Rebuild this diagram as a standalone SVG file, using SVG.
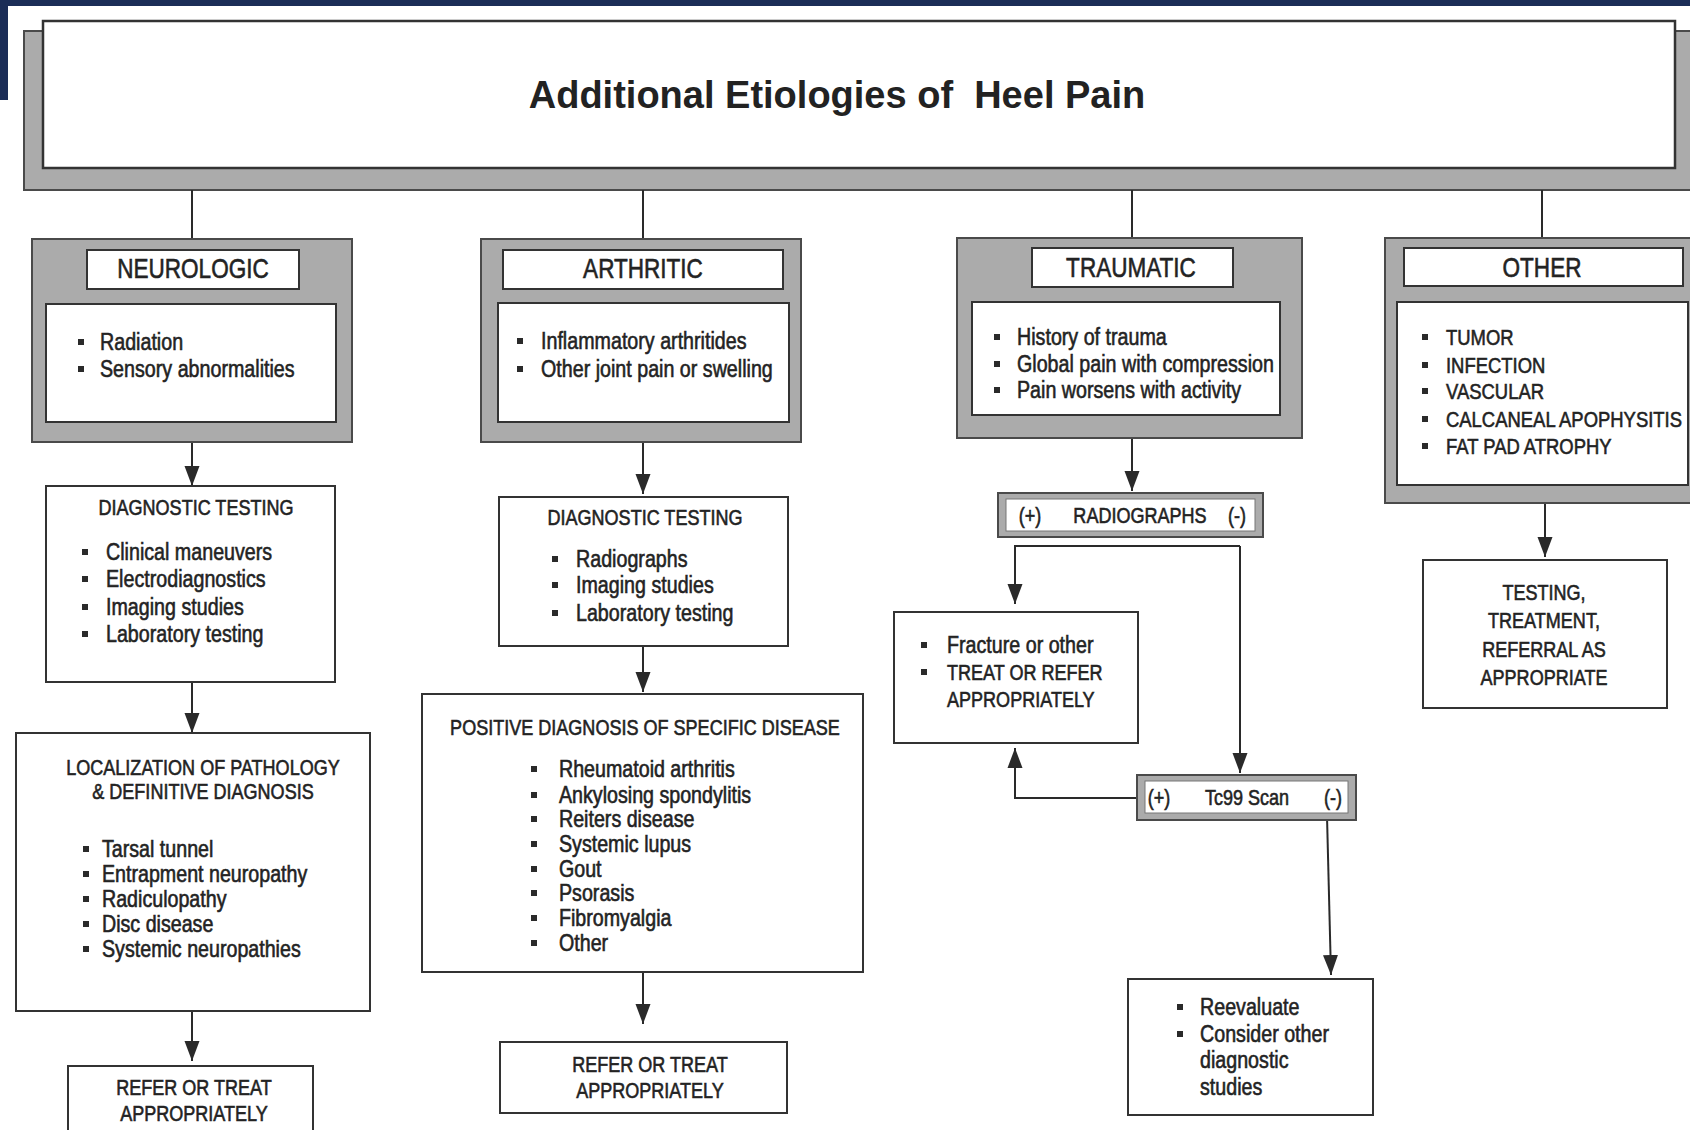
<svg xmlns="http://www.w3.org/2000/svg" width="1690" height="1130" viewBox="0 0 1690 1130">
<style>
.bg{fill:#ffffff}
.nav{fill:#1b2d57}
.gray{fill:#ababab;stroke:#4a4a4a;stroke-width:2}
.box{fill:#ffffff;stroke:#333333;stroke-width:2}
.con{fill:none;stroke:#2a2a2a;stroke-width:2}
.t{font-family:'Liberation Sans',Arial,sans-serif;fill:#232323;stroke:#232323;stroke-width:0.6;transform-box:fill-box;transform-origin:0% 50%;transform:scaleX(0.82)}
.title{font-family:'Liberation Sans',Arial,sans-serif;font-weight:bold;font-size:38px;fill:#222;text-anchor:middle;white-space:pre}
.h{font-size:27.5px;text-anchor:middle;transform-origin:50% 50%}
.s{font-size:22px}
.c{text-anchor:middle;transform-origin:50% 50%}
.b{font-size:24px}
.bt{font-size:23px;transform:scaleX(0.855)}
.u{font-size:22.5px}
.bul{fill:#2a2a2a}
</style>
<defs>
<marker id="ah" markerUnits="userSpaceOnUse" markerWidth="20" markerHeight="16" viewBox="0 0 20 16" refX="20" refY="8" orient="auto">
<path d="M0,0.5 L20,8 L0,15.5 Z" fill="#2a2a2a"/>
</marker>
<rect id="bu" x="-3" y="-3" width="6" height="6" class="bul"/>
</defs>
<rect class="bg" x="0" y="0" width="1690" height="1130"/>
<rect class="nav" x="0" y="0" width="1690" height="6"/>
<rect class="nav" x="0" y="0" width="8" height="100"/>

<g id="title">
<rect class="gray" x="24" y="31" width="1680" height="159"/>
<rect class="box" x="43" y="21" width="1632" height="147" style="stroke-width:2.5"/>
<text class="title" x="837" y="108" xml:space="preserve">Additional Etiologies of  Heel Pain</text>
</g>

<g id="connectors">
<path class="con" d="M192,190 V239"/>
<path class="con" d="M643,190 V239"/>
<path class="con" d="M1132,190 V238"/>
<path class="con" d="M1542,190 V238"/>
<path class="con" d="M192,442 V486" marker-end="url(#ah)"/>
<path class="con" d="M192,682 V733" marker-end="url(#ah)"/>
<path class="con" d="M192,1011 V1061" marker-end="url(#ah)"/>
<path class="con" d="M643,442 V494" marker-end="url(#ah)"/>
<path class="con" d="M643,646 V692" marker-end="url(#ah)"/>
<path class="con" d="M643,972 V1024" marker-end="url(#ah)"/>
<path class="con" d="M1132,438 V491" marker-end="url(#ah)"/>
<path class="con" d="M1240,546 H1015 V604" marker-end="url(#ah)"/>
<path class="con" d="M1240,546 V773" marker-end="url(#ah)"/>
<path class="con" d="M1146,798 H1015 V748" marker-end="url(#ah)"/>
<path class="con" d="M1327,816 L1331,975" marker-end="url(#ah)"/>
<path class="con" d="M1545,503 V557" marker-end="url(#ah)"/>
</g>

<g id="neurologic">
<rect class="gray" x="32" y="239" width="320" height="203"/>
<rect class="box" x="87" y="250" width="212" height="39"/>
<text class="t h" x="193" y="278">NEUROLOGIC</text>
<rect class="box" x="46" y="304" width="290" height="118"/>
<use href="#bu" x="81" y="342"/><text class="t b" x="100" y="350">Radiation</text>
<use href="#bu" x="81" y="369"/><text class="t b" x="100" y="377">Sensory abnormalities</text>
</g>

<g id="neuro-diag">
<rect class="box" x="46" y="486" width="289" height="196"/>
<text class="t s c" x="196" y="515">DIAGNOSTIC TESTING</text>
<use href="#bu" x="85" y="552"/><text class="t b" x="106" y="560">Clinical maneuvers</text>
<use href="#bu" x="85" y="579"/><text class="t b" x="106" y="587">Electrodiagnostics</text>
<use href="#bu" x="85" y="607"/><text class="t b" x="106" y="615">Imaging studies</text>
<use href="#bu" x="85" y="634"/><text class="t b" x="106" y="642">Laboratory testing</text>
</g>

<g id="neuro-loc">
<rect class="box" x="16" y="733" width="354" height="278"/>
<text class="t s c" x="203" y="775">LOCALIZATION OF PATHOLOGY</text>
<text class="t s c" x="203" y="799">&amp; DEFINITIVE DIAGNOSIS</text>
<use href="#bu" x="86" y="849"/><text class="t bt" x="102" y="857">Tarsal tunnel</text>
<use href="#bu" x="86" y="874"/><text class="t bt" x="102" y="882">Entrapment neuropathy</text>
<use href="#bu" x="86" y="899"/><text class="t bt" x="102" y="907">Radiculopathy</text>
<use href="#bu" x="86" y="924"/><text class="t bt" x="102" y="932">Disc disease</text>
<use href="#bu" x="86" y="949"/><text class="t bt" x="102" y="957">Systemic neuropathies</text>
</g>

<g id="neuro-refer">
<rect class="box" x="68" y="1066" width="245" height="80"/>
<text class="t s c" x="194" y="1095">REFER OR TREAT</text>
<text class="t s c" x="194" y="1121">APPROPRIATELY</text>
</g>

<g id="arthritic">
<rect class="gray" x="481" y="239" width="320" height="203"/>
<rect class="box" x="503" y="250" width="280" height="39"/>
<text class="t h" x="643" y="278">ARTHRITIC</text>
<rect class="box" x="498" y="303" width="291" height="119"/>
<use href="#bu" x="520" y="341"/><text class="t b" x="541" y="349">Inflammatory arthritides</text>
<use href="#bu" x="520" y="369"/><text class="t b" x="541" y="377">Other joint pain or swelling</text>
</g>

<g id="arth-diag">
<rect class="box" x="499" y="497" width="289" height="149"/>
<text class="t s c" x="645" y="525">DIAGNOSTIC TESTING</text>
<use href="#bu" x="555" y="559"/><text class="t b" x="576" y="567">Radiographs</text>
<use href="#bu" x="555" y="585"/><text class="t b" x="576" y="593">Imaging studies</text>
<use href="#bu" x="555" y="613"/><text class="t b" x="576" y="621">Laboratory testing</text>
</g>

<g id="arth-positive">
<rect class="box" x="422" y="694" width="441" height="278"/>
<text class="t s c" x="645" y="735">POSITIVE DIAGNOSIS OF SPECIFIC DISEASE</text>
<use href="#bu" x="534" y="769"/><text class="t bt" x="559" y="777">Rheumatoid arthritis</text>
<use href="#bu" x="534" y="795"/><text class="t bt" x="559" y="803">Ankylosing spondylitis</text>
<use href="#bu" x="534" y="819"/><text class="t bt" x="559" y="827">Reiters disease</text>
<use href="#bu" x="534" y="844"/><text class="t bt" x="559" y="852">Systemic lupus</text>
<use href="#bu" x="534" y="869"/><text class="t bt" x="559" y="877">Gout</text>
<use href="#bu" x="534" y="893"/><text class="t bt" x="559" y="901">Psorasis</text>
<use href="#bu" x="534" y="918"/><text class="t bt" x="559" y="926">Fibromyalgia</text>
<use href="#bu" x="534" y="943"/><text class="t bt" x="559" y="951">Other</text>
</g>

<g id="arth-refer">
<rect class="box" x="500" y="1042" width="287" height="71"/>
<text class="t s c" x="650" y="1072">REFER OR TREAT</text>
<text class="t s c" x="650" y="1098">APPROPRIATELY</text>
</g>

<g id="traumatic">
<rect class="gray" x="957" y="238" width="345" height="200"/>
<rect class="box" x="1032" y="248" width="201" height="39"/>
<text class="t h" x="1131" y="277">TRAUMATIC</text>
<rect class="box" x="972" y="302" width="308" height="113"/>
<use href="#bu" x="997" y="337"/><text class="t b" x="1017" y="345">History of trauma</text>
<use href="#bu" x="997" y="364"/><text class="t b" x="1017" y="372">Global pain with compression</text>
<use href="#bu" x="997" y="390"/><text class="t b" x="1017" y="398">Pain worsens with activity</text>
</g>

<g id="radiographs">
<rect class="gray" x="998" y="493" width="265" height="44"/>
<rect class="box" x="1006" y="499" width="249" height="32" style="stroke:#777;stroke-width:1"/>
<text class="t s c" x="1030" y="523">(+)</text>
<text class="t s c" x="1140" y="523">RADIOGRAPHS</text>
<text class="t s c" x="1237" y="523">(-)</text>
</g>

<g id="fracture">
<rect class="box" x="894" y="612" width="244" height="131"/>
<use href="#bu" x="924" y="645"/><text class="t b" x="947" y="653">Fracture or other</text>
<use href="#bu" x="924" y="672"/><text class="t s" x="947" y="680">TREAT OR REFER</text>
<text class="t s" x="947" y="707">APPROPRIATELY</text>
</g>

<g id="tc99">
<rect class="gray" x="1137" y="775" width="219" height="45"/>
<rect class="box" x="1145" y="781" width="203" height="32" style="stroke:#777;stroke-width:1"/>
<text class="t s c" x="1159" y="805">(+)</text>
<text class="t s c" x="1247" y="805">Tc99 Scan</text>
<text class="t s c" x="1333" y="805">(-)</text>
</g>

<g id="reevaluate">
<rect class="box" x="1128" y="979" width="245" height="136"/>
<use href="#bu" x="1180" y="1007"/><text class="t b" x="1200" y="1015">Reevaluate</text>
<use href="#bu" x="1180" y="1034"/><text class="t b" x="1200" y="1042">Consider other</text>
<text class="t b" x="1200" y="1068">diagnostic</text>
<text class="t b" x="1200" y="1095">studies</text>
</g>

<g id="other">
<rect class="gray" x="1385" y="238" width="320" height="265"/>
<rect class="box" x="1404" y="248" width="279" height="38"/>
<text class="t h" x="1542" y="277">OTHER</text>
<rect class="box" x="1397" y="302" width="291" height="183"/>
<use href="#bu" x="1425" y="337"/><text class="t u" x="1446" y="345">TUMOR</text>
<use href="#bu" x="1425" y="365"/><text class="t u" x="1446" y="373">INFECTION</text>
<use href="#bu" x="1425" y="391"/><text class="t u" x="1446" y="399">VASCULAR</text>
<use href="#bu" x="1425" y="419"/><text class="t u" x="1446" y="427">CALCANEAL APOPHYSITIS</text>
<use href="#bu" x="1425" y="446"/><text class="t u" x="1446" y="454">FAT PAD ATROPHY</text>
</g>

<g id="other-testing">
<rect class="box" x="1423" y="560" width="244" height="148"/>
<text class="t s c" x="1544" y="600">TESTING,</text>
<text class="t s c" x="1544" y="628">TREATMENT,</text>
<text class="t s c" x="1544" y="657">REFERRAL AS</text>
<text class="t s c" x="1544" y="685">APPROPRIATE</text>
</g>
</svg>
